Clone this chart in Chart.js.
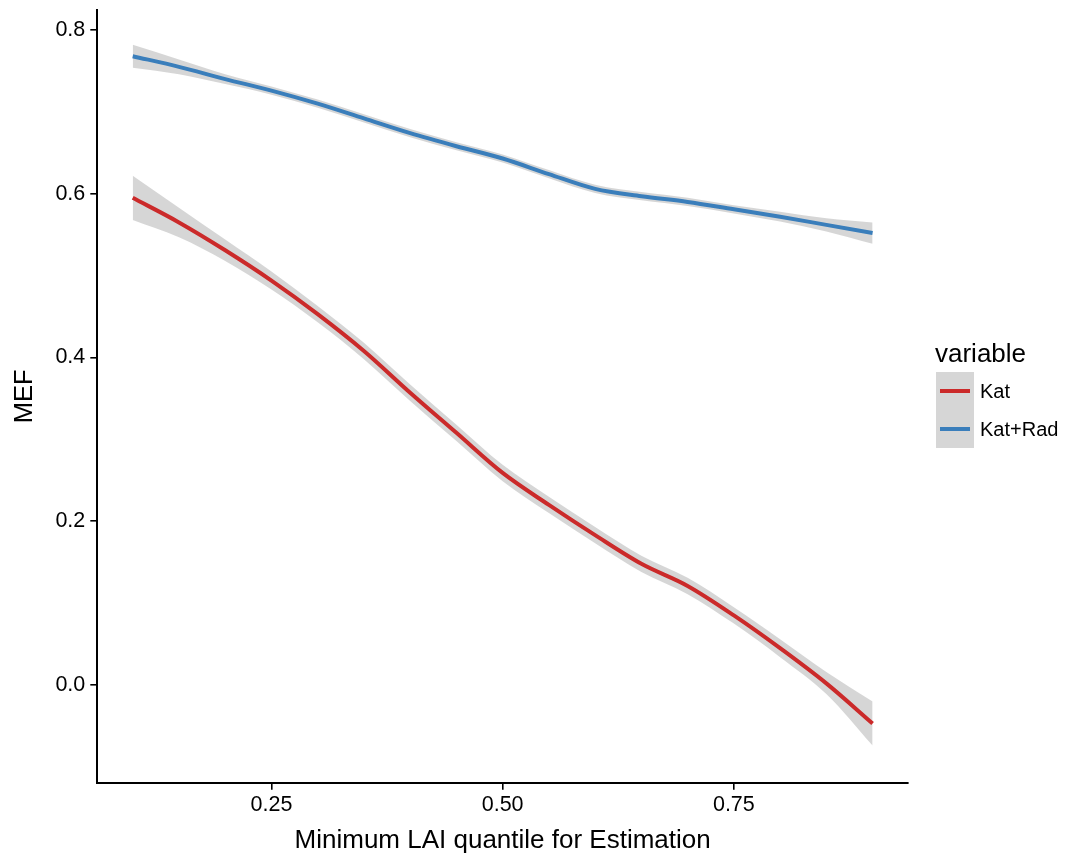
<!DOCTYPE html>
<html>
<head>
<meta charset="utf-8">
<script src="https://cdn.jsdelivr.net/npm/chart.js@4/dist/chart.umd.min.js"></script>
<style>
  html, body { margin: 0; padding: 0; background: #fff; }
  #c { display: block; }
</style>
</head>
<body>
<canvas id="c" width="1066" height="856"></canvas>
<script>
// ---- data ----
const quantiles = [0.10, 0.15, 0.20, 0.25, 0.30, 0.35, 0.40, 0.45, 0.50, 0.55, 0.60, 0.65, 0.70, 0.75, 0.80, 0.85, 0.90];

const katMEF   = [0.595, 0.565, 0.531, 0.494, 0.453, 0.408, 0.357, 0.308, 0.259, 0.220, 0.183, 0.148, 0.121, 0.085, 0.045, 0.002, -0.047];
const katLower = [0.568, 0.547, 0.518, 0.483, 0.443, 0.398, 0.347, 0.298, 0.249, 0.210, 0.173, 0.138, 0.111, 0.075, 0.034, -0.011, -0.074];
const katUpper = [0.622, 0.583, 0.544, 0.505, 0.463, 0.418, 0.367, 0.318, 0.269, 0.230, 0.193, 0.158, 0.131, 0.095, 0.056, 0.016, -0.020];

const radMEF   = [0.768, 0.755, 0.740, 0.726, 0.710, 0.692, 0.674, 0.658, 0.643, 0.624, 0.606, 0.597, 0.590, 0.581, 0.572, 0.562, 0.552];
const radLower = [0.754, 0.746, 0.734, 0.721, 0.705, 0.687, 0.669, 0.653, 0.638, 0.619, 0.601, 0.592, 0.585, 0.576, 0.566, 0.554, 0.539];
const radUpper = [0.782, 0.764, 0.746, 0.731, 0.715, 0.697, 0.679, 0.663, 0.648, 0.629, 0.611, 0.602, 0.595, 0.586, 0.578, 0.570, 0.565];

const seriesNames = ['Kat', 'Kat+Rad'];
const xTicks = [0.25, 0.50, 0.75];
const yTicks = [0.0, 0.2, 0.4, 0.6, 0.8];

// ---- styling ----
const FONT = '"Liberation Sans", Arial, Helvetica, sans-serif';
const RED = '#CB2A2A';
const BLUE = '#3A7EBB';
const RIBBON = 'rgba(153,153,153,0.4)';

const pts = arr => arr.map((v, i) => ({ x: quantiles[i], y: v }));

const lineDs = (label, data, color) => ({
  label, data: pts(data), borderColor: color, borderWidth: 4,
  pointRadius: 0, fill: false, cubicInterpolationMode: 'monotone'
});
const bandDs = (label, data, fill) => ({
  label, data: pts(data), borderWidth: 0, borderColor: 'rgba(0,0,0,0)',
  backgroundColor: RIBBON, pointRadius: 0, fill, cubicInterpolationMode: 'monotone'
});

const legendPlugin = {
  id: 'ggLegend',
  afterDraw(chart) {
    const ctx = chart.ctx;
    ctx.save();
    ctx.fillStyle = '#000';
    ctx.font = '26px ' + FONT;
    ctx.textAlign = 'left';
    ctx.textBaseline = 'middle';
    ctx.fillText('variable', 935, 355);
    const keys = [{ name: seriesNames[0], color: RED, y: 372 }, { name: seriesNames[1], color: BLUE, y: 410 }];
    keys.forEach(k => {
      ctx.fillStyle = RIBBON;
      ctx.fillRect(936, k.y, 38, 38);
      ctx.strokeStyle = k.color;
      ctx.lineWidth = 4;
      ctx.beginPath();
      ctx.moveTo(940, k.y + 19);
      ctx.lineTo(970, k.y + 19);
      ctx.stroke();
      ctx.fillStyle = '#000';
      ctx.font = '20px ' + FONT;
      ctx.fillText(k.name, 980, k.y + 20);
    });
    ctx.restore();
  }
};

new Chart(document.getElementById('c'), {
  type: 'line',
  data: {
    datasets: [
      lineDs(seriesNames[0], katMEF, RED),
      lineDs(seriesNames[1], radMEF, BLUE),
      bandDs('Kat lower', katLower, false),
      bandDs('Kat upper', katUpper, '-1'),
      bandDs('Kat+Rad lower', radLower, false),
      bandDs('Kat+Rad upper', radUpper, '-1')
    ]
  },
  options: {
    responsive: false,
    animation: false,
    layout: { padding: { top: 10, right: 158, left: 0, bottom: 0 } },
    plugins: { legend: { display: false }, tooltip: { enabled: false } },
    scales: {
      x: {
        type: 'linear',
        min: 0.0617, max: 0.9383,
        afterBuildTicks: s => { s.ticks = xTicks.map(v => ({ value: v })); },
        afterFit: s => { s.height = 73.3; s.paddingLeft = 0; s.paddingRight = 0; },
        grid: { drawOnChartArea: false, drawTicks: true, tickLength: 7, color: '#000', lineWidth: 1.6 },
        border: { display: true, color: '#000', width: 2 },
        ticks: { color: '#000', font: { family: FONT, size: 21.5 }, padding: 2, maxRotation: 0,
                 callback: v => v.toFixed(2) },
        title: { display: true, text: 'Minimum LAI quantile for Estimation', color: '#000',
                 font: { family: FONT, size: 26 }, padding: { top: 0, bottom: 0 } }
      },
      y: {
        type: 'linear',
        min: -0.1193, max: 0.8244,
        afterBuildTicks: s => { s.ticks = yTicks.map(v => ({ value: v })); },
        afterFit: s => { s.width = 97.3; s.paddingTop = 0; s.paddingBottom = 0; },
        grid: { drawOnChartArea: false, drawTicks: true, tickLength: 7, color: '#000', lineWidth: 1.6 },
        border: { display: true, color: '#000', width: 2 },
        ticks: { color: '#000', font: { family: FONT, size: 21.5 }, padding: 5,
                 callback: v => v.toFixed(1) },
        title: { display: true, text: 'MEF', color: '#000',
                 font: { family: FONT, size: 25.5 }, padding: { top: 10, bottom: 0 } }
      }
    }
  },
  plugins: [legendPlugin]
});
</script>
</body>
</html>
